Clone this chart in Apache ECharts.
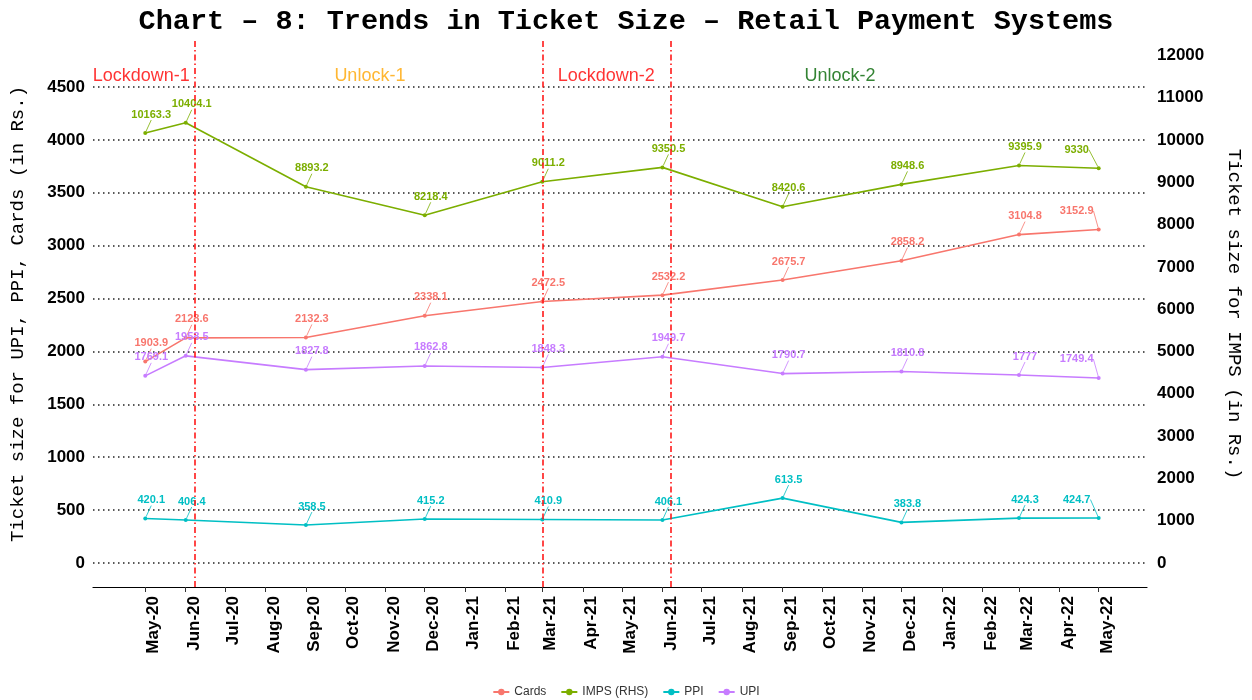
<!DOCTYPE html>
<html lang="en">
<head>
    <meta charset="UTF-8">
    <title>Chart - 8: Trends in Ticket Size</title>
    <script src="https://cdn.jsdelivr.net/npm/echarts@6/dist/echarts.min.js"></script>
    <style>
        html, body {
            margin: 0;
            padding: 0;
            background: #fff;
        }

        #chart {
            width: 1252px;
            height: 700px;
        }
    </style>
</head>
<body>
<div id="chart"></div>
<script>
    // data points (first of the month)
    const months = ['2020-05', '2020-06', '2020-09', '2020-12', '2021-03',
        '2021-06', '2021-09', '2021-12', '2022-03', '2022-05'];
    const cards = [1903.9, 2128.6, 2132.3, 2338.1, 2472.5, 2532.2, 2675.7, 2858.2, 3104.8, 3152.9];
    const imps = [10163.3, 10404.1, 8893.2, 8218.4, 9011.2, 9350.5, 8420.6, 8948.6, 9395.9, 9330];
    const ppi = [420.1, 406.4, 358.5, 415.2, 410.9, 406.1, 613.5, 383.8, 424.3, 424.7];
    const upi = [1769.1, 1958.5, 1827.8, 1862.8, 1848.3, 1949.7, 1790.7, 1810.8, 1777, 1749.4];

    // phase boundaries and phase names
    const phaseLines = ['2020-06-08', '2021-03-01', '2021-06-07'];
    const phaseNames = ['Lockdown-1', 'Unlock-1', 'Lockdown-2', 'Unlock-2'];
    const phaseDates = ['2020-04-28', '2020-10-20', '2021-04-19', '2021-10-15'];
    const phaseColors = ['#FF0000', '#FFA500', '#FF0000', '#006400'];

    const leftTicks = [0, 500, 1000, 1500, 2000, 2500, 3000, 3500, 4000, 4500];
    const rightTicks = [0, 1000, 2000, 3000, 4000, 5000, 6000, 7000, 8000, 9000, 10000, 11000, 12000];

    const monthNames = ['Jan', 'Feb', 'Mar', 'Apr', 'May', 'Jun', 'Jul', 'Aug', 'Sep', 'Oct', 'Nov', 'Dec'];

    function ts(s) {
        const p = s.split('-').map(Number);
        return Date.UTC(p[0], p[1] - 1, p[2] || 1);
    }

    // monthly ticks May-20 .. May-22
    const xTicks = [];
    for (let i = 0; i <= 24; i++) {
        xTicks.push(Date.UTC(2020, 4 + i, 1));
    }

    const colors = {cards: '#F8766D', imps: '#7CAE00', ppi: '#00BFC4', upi: '#C77CFF'};
    const last = months.length - 1;

    function makeSeries(name, values, color, axis) {
        return {
            name: name,
            type: 'line',
            yAxisIndex: axis,
            data: months.map((m, i) => [ts(m), values[i]]),
            symbol: 'circle',
            symbolSize: 4,
            color: color,
            lineStyle: {width: 1.6, color: color},
            label: {
                show: true,
                position: 'top',
                distance: 4,
                color: color,
                fontFamily: 'Liberation Sans, Arial, sans-serif',
                fontWeight: 'bold',
                fontSize: 11,
                formatter: p => String(p.value[1])
            },
            labelLayout: p => (p.dataIndex === last ? {dx: -22, dy: -7} : {dx: 6, dy: -7}),
            labelLine: {show: true, lineStyle: {width: 0.8, color: color}},
            z: 3
        };
    }

    const chart = echarts.init(document.getElementById('chart'));
    chart.setOption({
        animation: false,
        title: {
            text: 'Chart \u2013 8: Trends in Ticket Size \u2013 Retail Payment Systems',
            left: 'center',
            top: 2,
            textStyle: {
                fontFamily: 'Liberation Mono, Courier New, monospace',
                fontWeight: 'bold',
                fontSize: 28.5,
                color: '#000'
            }
        },
        legend: {
            bottom: -3,
            left: 'center',
            itemWidth: 16,
            itemHeight: 8,
            itemGap: 14,
            data: ['Cards', 'IMPS (RHS)', 'PPI', 'UPI'],
            textStyle: {fontFamily: 'Liberation Sans, Arial, sans-serif', fontSize: 12, color: '#333'}
        },
        grid: {left: 93, right: 102, top: 41, bottom: 113},
        xAxis: {
            type: 'value',
            min: ts('2020-03-22'),
            max: ts('2022-06-07'),
            splitLine: {show: false},
            axisLine: {onZero: false, lineStyle: {color: '#000', width: 1.2}},
            axisTick: {customValues: xTicks, length: 5, lineStyle: {color: '#333'}},
            axisLabel: {
                customValues: xTicks,
                rotate: 90,
                verticalAlign: 'top',
                margin: 9,
                color: '#000',
                fontFamily: 'Liberation Sans, Arial, sans-serif',
                fontWeight: 'bold',
                fontSize: 17,
                formatter: v => {
                    const d = new Date(v);
                    return monthNames[d.getUTCMonth()] + '-' + String(d.getUTCFullYear()).slice(2);
                }
            }
        },
        yAxis: [{
            type: 'value',
            min: -227,
            max: 4935,
            name: 'Ticket size for UPI, PPI, Cards (in Rs.)',
            nameLocation: 'middle',
            nameRotate: 90,
            nameGap: 66,
            nameTextStyle: {fontFamily: 'Liberation Mono, Courier New, monospace', fontSize: 19, color: '#000'},
            axisLine: {show: false},
            axisTick: {show: false, customValues: leftTicks},
            axisLabel: {
                customValues: leftTicks,
                margin: 8,
                color: '#000',
                fontFamily: 'Liberation Sans, Arial, sans-serif',
                fontWeight: 'bold',
                fontSize: 17,
                formatter: v => String(v)
            },
            splitLine: {show: true, lineStyle: {color: '#222', width: 1.5, type: [1.5, 3.5]}}
        }, {
            type: 'value',
            min: -567.5,
            max: 12337.5,
            position: 'right',
            name: 'Ticket size for IMPS (in Rs.)',
            nameLocation: 'middle',
            nameRotate: -90,
            nameGap: 78,
            nameTextStyle: {fontFamily: 'Liberation Mono, Courier New, monospace', fontSize: 19, color: '#000'},
            axisLine: {show: false},
            axisTick: {show: false, customValues: rightTicks},
            axisLabel: {
                customValues: rightTicks,
                margin: 10,
                color: '#000',
                fontFamily: 'Liberation Sans, Arial, sans-serif',
                fontWeight: 'bold',
                fontSize: 17,
                formatter: v => String(v)
            },
            splitLine: {show: false}
        }],
        series: [
            Object.assign(makeSeries('Cards', cards, colors.cards, 0), {
                markLine: {
                    silent: true,
                    symbol: 'none',
                    label: {show: false},
                    lineStyle: {color: '#FF1A1A', width: 1.6, type: [6, 3, 1.5, 3]},
                    data: phaseLines.map(d => ({xAxis: ts(d)}))
                }
            }),
            makeSeries('IMPS (RHS)', imps, colors.imps, 1),
            makeSeries('PPI', ppi, colors.ppi, 0),
            makeSeries('UPI', upi, colors.upi, 0),
            {
                name: 'phases',
                type: 'scatter',
                silent: true,
                symbolSize: 0,
                data: phaseNames.map((n, i) => ({
                    value: [ts(phaseDates[i]), 4600],
                    label: {
                        show: true,
                        position: 'inside',
                        formatter: n,
                        color: phaseColors[i],
                        fontFamily: 'Liberation Sans, Arial, sans-serif',
                        fontSize: 18
                    }
                }))
            }
        ]
    });
</script>
</body>
</html>
